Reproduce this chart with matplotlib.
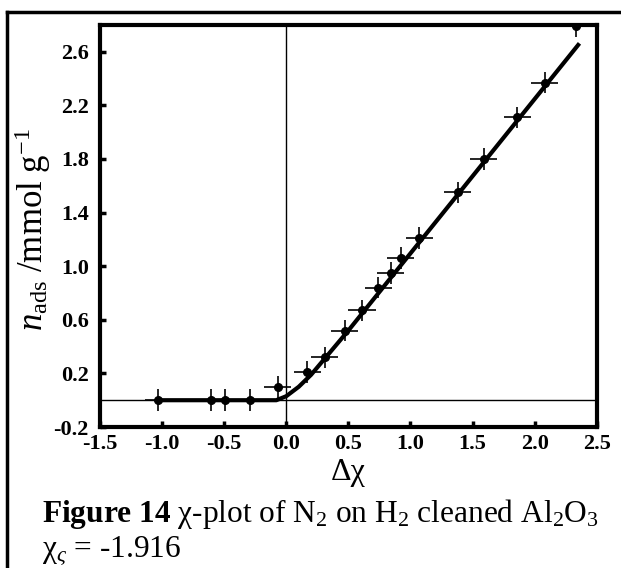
import matplotlib
matplotlib.use("Agg")
import matplotlib.pyplot as plt
from matplotlib.lines import Line2D

plt.rcParams["font.family"] = ["Liberation Serif", "DejaVu Serif"]
plt.rcParams["mathtext.fontset"] = "custom"
plt.rcParams["mathtext.rm"] = "Liberation Serif"
plt.rcParams["mathtext.it"] = "Liberation Serif:italic"
plt.rcParams["mathtext.bf"] = "Liberation Serif:bold"

# measured points (delta chi, n_ads in mmol/g)
delta_chi = [-1.03, -0.61, -0.49, -0.29, -0.07, 0.17, 0.31, 0.47, 0.61,
             0.74, 0.84, 0.92, 1.07, 1.38, 1.59, 1.86, 2.08, 2.33]
n_ads = [0.0, 0.0, 0.0, 0.0, 0.10, 0.21, 0.32, 0.52, 0.67,
         0.84, 0.95, 1.06, 1.21, 1.55, 1.80, 2.11, 2.37, 2.79]
x_err = 0.11
y_err = 0.08

# fitted chi-plot line
fit_x = [-1.03, -0.08, 0.0, 0.1, 0.2, 0.3, 0.5, 2.35]
fit_y = [0.0, 0.0, 0.03, 0.10, 0.19, 0.30, 0.52, 2.65]

x_ticks = [-1.5, -1.0, -0.5, 0.0, 0.5, 1.0, 1.5, 2.0, 2.5]
y_ticks = [-0.2, 0.2, 0.6, 1.0, 1.4, 1.8, 2.2, 2.6]

fig = plt.figure(figsize=(6.21, 5.68), dpi=100)
ax = fig.add_axes([0.161, 0.2482, 0.800, 0.708])

ax.axhline(0, color="black", lw=1.0, zorder=1)
ax.axvline(0, color="black", lw=1.0, zorder=1)
ax.plot(fit_x, fit_y, color="black", lw=3, zorder=3)
ax.errorbar(delta_chi, n_ads, xerr=x_err, yerr=y_err, fmt="o",
            color="black", ms=5.5, elinewidth=1.2, capsize=0, zorder=4)

ax.set_xlim(-1.5, 2.5)
ax.set_ylim(-0.2, 2.8)
ax.set_xticks(x_ticks)
ax.set_yticks(y_ticks)
ax.set_xticklabels(["{:.1f}".format(t) for t in x_ticks], fontweight="bold")
ax.set_yticklabels(["{:.1f}".format(t) for t in y_ticks], fontweight="bold")
ax.tick_params(direction="in", length=4, width=2.5, labelsize=16)
ax.tick_params(axis="x", pad=5)
ax.tick_params(axis="y", pad=8)
for spine in ax.spines.values():
    spine.set_linewidth(3)

ax.set_xlabel("Δχ", fontsize=23, labelpad=3)
ax.set_ylabel("$\\mathit{n}_{\\rm ads}$ /mmol g$^{-1}$", fontsize=25)
ax.yaxis.set_label_coords(-0.094, 0.49)

# caption under the chart
fig.text(0.068, 0.081,
         "$\\mathbf{Figure\\ 14}$ χ-plot of N$_2$ on H$_2$ cleaned Al$_2$O$_3$",
         fontsize=22.6, ha="left", va="baseline")
fig.text(0.068, 0.0176, "χ$_ς$ = -1.916", fontsize=22.6, ha="left",
         va="baseline")

# outer frame of the figure
fig.add_artist(Line2D([7 / 621, 1.0], [1 - 12 / 568, 1 - 12 / 568],
                      transform=fig.transFigure, color="black", lw=2.5))
fig.add_artist(Line2D([7 / 621, 7 / 621], [0.0, 1 - 12 / 568],
                      transform=fig.transFigure, color="black", lw=2.5))

plt.savefig("out.png", dpi=100)
